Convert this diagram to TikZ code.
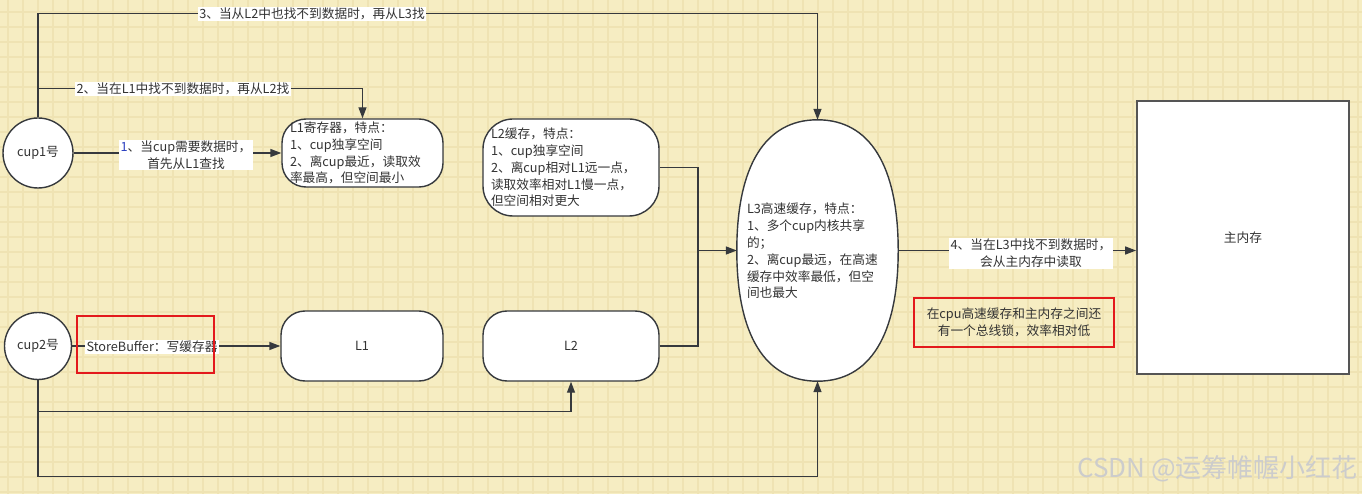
\documentclass[tikz,border=0pt]{standalone}
\usepackage{fontspec}
\setmainfont{Noto Sans CJK SC}
\usetikzlibrary{arrows.meta,shapes.geometric}
\definecolor{bg}{HTML}{F6EDC2}
\definecolor{gridc}{HTML}{EFE3B3}
\definecolor{ln}{HTML}{36393D}
\definecolor{txt}{HTML}{333333}
\definecolor{redb}{HTML}{E3191C}
\definecolor{memln}{HTML}{555555}
\definecolor{numblue}{HTML}{2A3FC0}
\begin{document}
\begin{tikzpicture}[x=1pt,y=-1pt,
  font=\fontsize{12.7}{16.8}\selectfont,
  cpu/.style={circle,draw=ln,fill=white,line width=1.4pt,inner sep=0pt,text=txt},
  rbox/.style={rectangle,draw=ln,fill=white,line width=1.4pt,rounded corners=24pt,inner xsep=8pt,inner ysep=0pt,text=txt},
  conn/.style={draw=ln,line width=1.4pt},
  edge/.style={conn,-{Triangle[length=11pt,width=8pt]}},
  lbl/.style={fill=white,inner xsep=1.5pt,inner ysep=1pt,align=center,text=txt},
  redbox/.style={draw=redb,line width=1.4pt,inner sep=0pt}
]
\useasboundingbox (0,0) rectangle (1362,494);
\fill[bg] (0,0) rectangle (1362,494);
\foreach \x in {8,23,...,1362} \draw[gridc,line width=1.2pt] (\x,0) -- (\x,494);
\foreach \y in {12,27,...,494} \draw[gridc,line width=1.2pt] (0,\y) -- (1362,\y);

% nodes
\node[cpu,minimum size=70pt] (c1) at (38,153) {cup1号};
\node[cpu,minimum size=67pt] (c2) at (38,346) {cup2号};
\node[rbox,minimum width=161pt,minimum height=68pt,text width=145pt,align=left] (L1r) at (362.5,153)
  {L1寄存器，特点：\\1、cup独享空间\\2、离cup最近，读取效\\率最高，但空间最小};
\node[rbox,rounded corners=30pt,minimum width=176pt,minimum height=97pt,text width=160pt,align=left] (L2t) at (571,167.5)
  {L2缓存，特点：\\1、cup独享空间\\2、离cup相对L1远一点，\\读取效率相对L1慢一点，\\但空间相对更大};
\node[rbox,minimum width=162pt,minimum height=70pt] (L1b) at (362,346) {L1};
\node[rbox,minimum width=176pt,minimum height=70pt] (L2b) at (571,346) {L2};
% L3: a fat ellipse drawn round a named frame node
\node[rectangle,inner sep=0pt,minimum width=161pt,minimum height=261pt] (L3) at (817.5,250.5) {};
\fill[white,draw=ln,line width=1.4pt]
  (L3.north) .. controls ([xshift=52.3pt]L3.north) and ([yshift=84.8pt]L3.east) .. (L3.east)
  .. controls ([yshift=-84.8pt]L3.east) and ([xshift=52.3pt]L3.south) .. (L3.south)
  .. controls ([xshift=-52.3pt]L3.south) and ([yshift=-84.8pt]L3.west) .. (L3.west)
  .. controls ([yshift=84.8pt]L3.west) and ([xshift=-52.3pt]L3.north) .. (L3.north) -- cycle;
\node[text width=146pt,align=left,text=txt,inner sep=0pt] (L3t) at (820,251)
  {L3高速缓存，特点：\\1、多个cup内核共享\\的；\\2、离cup最远，在高速\\缓存中效率最低，但空\\间也最大};
\node[rectangle,draw=memln,fill=white,line width=1.8pt,minimum width=212pt,minimum height=273pt,text=txt] (mem) at (1243,237.5) {主内存};

% connectors
\coordinate (j) at (698,250.5);
\draw[edge] (c1.east) -- (L1r.west);
\draw[edge] (c1.north) -- ++(0,-29) -| (L1r.north);
\draw[edge] (c1.north) -- ++(0,-104) -| (L3.north);
\draw[edge] (L3.east) -- (L3.east -| mem.west);
\draw[conn] (L2t.east) -| (j);
\draw[conn] (L2b.east) -| (j);
\draw[edge] (j) -- (L3.west);
\draw[edge] (c2.east) -- (L1b.west);
\draw[edge] (c2.south) -- ++(0,31) -| (L2b.south);
\draw[edge] (c2.south) -- ++(0,96) -| (L3.south);

% connector labels
\node[lbl] (t1) at (186,155) {\textcolor{numblue}{1}、当cup需要数据时，\\首先从L1查找};
\node[lbl] (t2) at (183,89) {2、当在L1中找不到数据时，再从L2找};
\node[lbl] (t3) at (312,14) {3、当从L2中也找不到数据时，再从L3找};
\node[lbl] (t4) at (1031,253.5) {4、当在L3中找不到数据时，\\会从主内存中读取};
\node[lbl] (tsb) at (152,347) {StoreBuffer：写缓存器};

% red boxes
\node[redbox,minimum width=137pt,minimum height=57pt] (sb) at (145.5,344.5) {};
\node[redbox,minimum width=200pt,minimum height=49pt,align=center,text=txt] (note) at (1014,322.5)
  {在cpu高速缓存和主内存之间还\\有一个总线锁，效率相对低};

% watermark
\node[anchor=east,text=black!20,inner sep=0pt,font=\fontsize{26}{30}\selectfont] (wm) at (1358,469) {CSDN @运筹帷幄小红花};
\end{tikzpicture}
\end{document}
